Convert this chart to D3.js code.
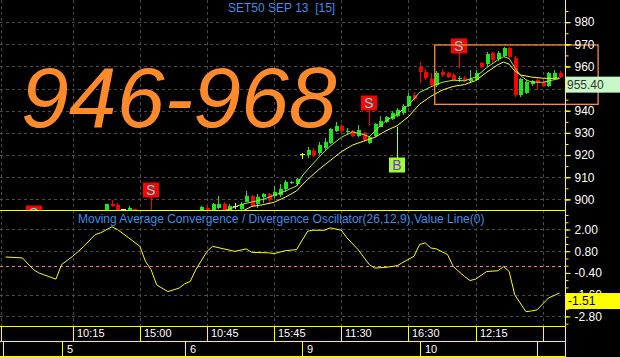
<!DOCTYPE html>
<html>
<head>
<meta charset="utf-8">
<script src="https://cdnjs.cloudflare.com/ajax/libs/d3/7.8.5/d3.min.js"></script>
<style>
  html, body { margin: 0; padding: 0; background: #000; overflow: hidden; }
  svg { display: block; font-family: "Liberation Sans", Arial, sans-serif; }
</style>
</head>
<body>
<div id="chart"></div>
<script>
// SET50 SEP 13, 15 minute bars. Bar index 0..99, null = bar lies below the visible price range
const opens = [
  null, null, null, null, null, null, null, null, null, null,
  null, null, null, null, null, null, null, null, 894.5, 897.9,
  897.4, 895.4, 894.8, 895.6, null, null, null, null, null, null,
  null, null, null, null, null, 894.5, 896.3, 894.8, 896.2, 897.9,
  894.8, 897.0, 895.5, 899.0, 901.5, 897.9, 900.9, 902.4, 901.5, 901.8,
  904.6, 907.2, 906.9, 920.3, 920.0, 921.9, 920.9, 923.0, 925.5, 931.0,
  933.0, 930.3, 930.8, 928.8, 929.8, 925.4, 928.6, 932.8, 934.8, 936.5,
  937.5, 939.0, 942.1, 947.1, 959.9, 957.6, 954.2, 951.6, 957.6, 956.9,
  956.1, 954.2, 954.6, 953.6, 953.9, 961.4, 961.0, 965.9, 963.2, 964.7,
  968.2, 964.0, 947.1, 947.8, 951.9, 953.9, 953.1, 951.4, 955.0, 957.0
];
const highs = [
  null, null, null, null, null, null, null, null, null, null,
  null, null, null, null, null, null, null, null, 897.9, 899.5,
  898.5, 895.8, 896.8, 895.7, null, null, null, null, null, null,
  null, null, null, null, null, 896.9, 898.0, 898.3, 901.4, 898.6,
  898.1, 898.4, 898.9, 903.7, 902.0, 902.5, 903.1, 903.0, 906.0, 907.1,
  908.8, 908.5, 909.6, 921.0, 923.5, 923.0, 926.0, 927.5, 932.3, 935.0,
  934.0, 932.0, 931.5, 933.5, 930.5, 928.7, 934.3, 937.5, 937.6, 940.0,
  941.3, 943.0, 947.8, 948.6, 962.1, 958.7, 956.9, 958.0, 958.8, 957.6,
  957.0, 955.6, 955.9, 958.2, 958.4, 962.0, 966.5, 966.5, 967.2, 968.6,
  968.7, 964.7, 954.6, 954.0, 953.9, 954.6, 954.3, 957.3, 958.4, 957.8
];
const lows = [
  null, null, null, null, null, null, null, null, null, null,
  null, null, null, null, null, null, null, null, 893.5, 896.5,
  893.8, 894.4, 894.5, 894.0, null, null, null, null, null, null,
  null, null, null, null, null, 893.8, 894.0, 894.2, 895.5, 894.5,
  894.3, 895.5, 895.0, 898.8, 896.5, 896.3, 898.5, 897.8, 900.5, 901.0,
  903.5, 906.8, 906.2, 918.2, 918.8, 919.3, 920.0, 922.5, 925.0, 930.5,
  930.0, 929.5, 928.0, 928.3, 925.9, 924.8, 928.3, 932.5, 934.4, 936.0,
  937.0, 938.0, 941.5, 944.5, 952.6, 953.8, 950.9, 950.9, 955.3, 954.6,
  953.5, 952.8, 952.8, 953.0, 953.3, 959.3, 960.0, 961.5, 962.5, 964.4,
  964.0, 946.1, 946.4, 947.5, 951.4, 949.3, 950.6, 950.6, 954.4, 954.8
];
const closes = [
  null, null, null, null, null, null, null, null, null, null,
  null, null, null, null, null, null, null, null, 897.7, 897.1,
  894.8, 895.4, 896.2, 894.9, null, null, null, null, null, null,
  null, null, null, null, null, 896.4, 894.5, 897.7, 897.7, 895.0,
  896.8, 897.0, 897.9, 901.5, 897.0, 901.2, 902.4, 899.7, 903.4, 904.6,
  907.9, 907.9, 909.2, 920.3, 922.3, 920.0, 924.5, 926.0, 931.8, 933.1,
  930.8, 931.0, 928.6, 931.3, 926.8, 928.2, 933.8, 935.5, 937.0, 938.8,
  940.2, 942.0, 946.6, 945.1, 957.6, 954.6, 951.6, 957.2, 956.1, 955.3,
  954.1, 954.9, 953.5, 954.5, 956.9, 959.9, 965.7, 963.0, 965.9, 968.2,
  964.4, 946.9, 954.2, 953.1, 953.4, 952.6, 951.1, 956.9, 957.0, 955.4
];

// moving averages, read at these bars
const fastMaBars = [38, 40, 42, 44, 46, 48, 50, 52, 53, 54, 56, 58, 60, 62, 64, 65, 66, 68, 70, 72,
                    74, 76, 78, 80, 82, 84, 86, 88, 89, 90, 91, 92, 93, 94, 96, 98, 99];
const fastMa = [894.0, 895.6, 897.6, 898.8, 900.0, 901.8, 903.8, 906.0, 910.5, 913.5, 919.0, 924.0, 928.0, 930.5, 929.2, 928.3, 930.8, 935.5, 938.5, 942.5,
                948.3, 950.8, 952.8, 953.8, 953.5, 955.2, 959.5, 963.0, 964.4, 963.6, 959.5, 956.0, 954.0, 953.0, 952.8, 954.0, 954.5];
const slowMaBars = [40, 42, 44, 46, 48, 50, 52, 53, 54, 56, 58, 60, 62, 64, 66, 68, 70, 72,
                    74, 76, 78, 80, 82, 84, 86, 88, 89, 90, 91, 92, 94, 96, 98, 99];
const slowMa = [893.5, 894.3, 896.8, 897.6, 898.7, 901.0, 903.8, 906.5, 909.0, 913.5, 917.5, 921.5, 924.5, 926.3, 928.0, 931.0, 933.3, 937.3,
                943.0, 946.5, 949.3, 951.0, 951.8, 953.6, 957.4, 960.8, 962.0, 961.0, 958.0, 956.2, 955.2, 954.7, 954.6, 954.8];

// buy / sell signals
const signalBars = [5, 26, 65, 70, 81];
const signalTypes = ["S", "S", "S", "B", "S"];
const signalBoxPrice = [894.0, 904.2, 943.5, 915.6, 969.4];
const signalLinePrice = [890.0, 890.0, 933.2, 932.8, 959.1];

// MACD(26,12,9), read at these bars
const macdBars = [0, 3, 5, 6, 9, 10, 12, 14, 16, 17, 19, 20, 22, 24, 25, 26, 27, 29, 31, 32,
                  33, 34, 36, 37, 39, 41, 43, 44, 47, 48, 50, 52, 54, 55, 57, 58, 60, 61, 63, 65,
                  66, 68, 70, 71, 73, 74, 75, 76, 77, 79, 80, 82, 83, 84, 86, 88, 89, 90, 91, 93,
                  94, 95, 97, 99];
const macdVals = [0.48, 0.43, -0.22, -0.41, -0.74, 0.06, 0.52, 1.07, 1.72, 1.82, 2.15, 2.00, 1.54, 1.07, 0.24, -0.22, -1.06, -1.43, -1.24, -1.00,
                  -0.87, -0.22, 0.79, 1.07, 0.93, 0.79, 0.93, 0.74, 0.71, 0.67, 0.83, 0.89, 1.91, 1.96, 1.96, 2.09, 1.96, 1.54, 0.89, 0.06,
                  -0.13, -0.09, 0.00, 0.18, 0.52, 1.17, 1.26, 0.98, 0.93, 0.61, -0.04, -0.59, -0.82, -0.74, -0.32, -0.28, -0.04, -0.32, -1.61, -2.54,
                  -2.50, -2.44, -1.79, -1.51];

// axes
const priceTicks = [900, 910, 920, 930, 940, 950, 960, 970, 980];
const macdTicks = [2.0, 0.8, -0.4, -1.6, -2.8];
const macdGrid = [2.0, 0.8, -1.6, -2.8];
const timeBars = [12, 24, 36, 48, 60, 72, 84, 96];
const timeLabels = ["10:15", "15:00", "10:45", "15:45", "11:30", "16:30", "12:15", ""];
const dayBars = [10, 32, 53, 74, 95];
const dayLabels = ["5", "6", "9", "10", ""];

// target zone annotation
const zoneText = "946-968";
const zoneBars = [76.7, 105.9];
const zonePrices = [942.9, 969.7];

const W = 620, H = 357;
const axisX = 565;
const priceTop = 0, priceBottom = 210, macdBottom = 326, rowMid = 341, rowBottom = 356;

const svg = d3.select("#chart").append("svg")
    .attr("width", W)
    .attr("height", H)
    .style("background", "#000");

const x = d3.scaleLinear().domain([0, 99]).range([5.6, 559.5]);
const y = d3.scaleLinear().domain([895.2, 990]).range([priceBottom, priceTop]);
const ym = d3.scaleLinear().domain([-3.331, 3.077]).range([macdBottom, priceBottom]);

const defs = svg.append("defs");
defs.append("clipPath").attr("id", "clipPrice")
    .append("rect").attr("x", 0).attr("y", priceTop).attr("width", axisX).attr("height", priceBottom - priceTop);
defs.append("clipPath").attr("id", "clipMacd")
    .append("rect").attr("x", 0).attr("y", priceBottom).attr("width", axisX).attr("height", macdBottom - priceBottom);

const gridColor = "#4a4a4a";
const grid = svg.append("g").attr("stroke", gridColor).attr("stroke-dasharray", "3,3").attr("shape-rendering", "crispEdges");

// horizontal grid
grid.selectAll(".hp").data(priceTicks).join("line")
    .attr("x1", 0).attr("x2", axisX)
    .attr("y1", d => Math.round(y(d)) + 0.5).attr("y2", d => Math.round(y(d)) + 0.5);
grid.selectAll(".hm").data(macdGrid).join("line")
    .attr("x1", 0).attr("x2", axisX)
    .attr("y1", d => Math.round(ym(d)) + 0.5).attr("y2", d => Math.round(ym(d)) + 0.5);
// vertical grid
grid.selectAll(".v").data([0].concat(timeBars)).join("line")
    .attr("x1", (d, i) => i === 0 ? 1.5 : Math.round(x(d)) + 0.5)
    .attr("x2", (d, i) => i === 0 ? 1.5 : Math.round(x(d)) + 0.5)
    .attr("y1", priceTop).attr("y2", macdBottom);

// zero line of the oscillator
svg.append("line")
    .attr("x1", 0).attr("x2", axisX)
    .attr("y1", Math.round(ym(0)) + 0.5).attr("y2", Math.round(ym(0)) + 0.5)
    .attr("stroke", "#ff7373").attr("stroke-dasharray", "3,3");

// big target text
svg.append("text")
    .attr("x", 21).attr("y", 126.5)
    .attr("font-size", 86)
    .attr("font-style", "italic")
    .attr("fill", "#ff8a2b")
    .text(zoneText);

// title
svg.append("text")
    .attr("x", 228).attr("y", 12)
    .attr("font-size", 12)
    .attr("fill", "#3d8ee8")
    .style("white-space", "pre")
    .text("SET50 SEP 13  [15]");

// price panel
const pricePanel = svg.append("g").attr("clip-path", "url(#clipPrice)");

const bars = d3.range(100).filter(i => opens[i] !== null).map(i => ({
  i, o: opens[i], h: highs[i], l: lows[i], c: closes[i]
}));
const candleColor = d => d.c > d.o ? "#1ee61e" : d.c < d.o ? "#ff0000" : "#ffff00";

const candle = pricePanel.append("g").attr("shape-rendering", "crispEdges")
    .selectAll("g").data(bars).join("g");
candle.append("line")
    .attr("x1", d => Math.round(x(d.i)) + 0.5).attr("x2", d => Math.round(x(d.i)) + 0.5)
    .attr("y1", d => y(d.h)).attr("y2", d => y(d.l))
    .attr("stroke", candleColor);
candle.append("rect")
    .attr("x", d => Math.round(x(d.i)) - (d.c === d.o ? 2 : 1.5))
    .attr("width", d => d.c === d.o ? 5 : 4)
    .attr("y", d => d.c === d.o ? y(d.c) - 0.5 : y(Math.max(d.o, d.c)))
    .attr("height", d => Math.max(1, Math.abs(y(d.o) - y(d.c))))
    .attr("fill", candleColor);

const maLine = (bars, vals) => d3.line()
    .x((d, k) => x(bars[k]))
    .y(d => y(d))(vals);

pricePanel.append("path")
    .attr("d", maLine(slowMaBars, slowMa))
    .attr("fill", "none").attr("stroke", "#ffff33").attr("stroke-width", 1);
pricePanel.append("path")
    .attr("d", maLine(fastMaBars, fastMa))
    .attr("fill", "none").attr("stroke", "#a3f03a").attr("stroke-width", 1);

// signals
const signals = signalBars.map((b, k) => ({
  b, t: signalTypes[k], box: signalBoxPrice[k], end: signalLinePrice[k]
}));
const sig = pricePanel.append("g").selectAll("g").data(signals).join("g");
sig.append("line")
    .attr("x1", d => Math.round(x(d.b)) + 0.5).attr("x2", d => Math.round(x(d.b)) + 0.5)
    .attr("y1", d => y(d.box)).attr("y2", d => y(d.end))
    .attr("stroke", d => d.t === "S" ? "#ff0000" : "#99ff33");
sig.append("rect")
    .attr("x", d => Math.round(x(d.b)) - 8)
    .attr("y", d => Math.round(y(d.box)) - 7.5)
    .attr("width", 16).attr("height", 15)
    .attr("fill", d => d.t === "S" ? "#ff0000" : "#99ff33");
sig.append("text")
    .attr("x", d => Math.round(x(d.b)))
    .attr("y", d => Math.round(y(d.box)) + 5)
    .attr("text-anchor", "middle")
    .attr("font-size", 14)
    .attr("fill", d => d.t === "S" ? "#3ce6f0" : "#8a2be2")
    .text(d => d.t);

// target zone box
svg.append("rect")
    .attr("x", x(zoneBars[0])).attr("y", y(zonePrices[1]))
    .attr("width", x(zoneBars[1]) - x(zoneBars[0]))
    .attr("height", y(zonePrices[0]) - y(zonePrices[1]))
    .attr("fill", "none").attr("stroke", "#ff8c3c").attr("stroke-width", 1.3);

// oscillator panel
const macdPanel = svg.append("g").attr("clip-path", "url(#clipMacd)");
macdPanel.append("path")
    .attr("d", d3.line().x((d, k) => x(macdBars[k])).y(d => ym(d))(macdVals))
    .attr("fill", "none").attr("stroke", "#ffff00").attr("stroke-width", 1);

svg.append("text")
    .attr("x", 78).attr("y", 222.5)
    .attr("font-size", 12)
    .attr("fill", "#3d8ee8")
    .text("Moving Average Convergence / Divergence Oscillator(26,12,9),Value Line(0)");

// frame lines
const frame = svg.append("g").attr("stroke", "#ffff00").attr("shape-rendering", "crispEdges");
[priceBottom, macdBottom, rowMid, rowBottom].forEach(v => {
  frame.append("line").attr("x1", 0).attr("x2", axisX).attr("y1", v + 0.5).attr("y2", v + 0.5);
});
frame.append("line").attr("x1", axisX + 0.5).attr("x2", axisX + 0.5).attr("y1", 0).attr("y2", H);
frame.append("line").attr("x1", 1.5).attr("x2", 1.5).attr("y1", macdBottom).attr("y2", rowMid);
frame.append("line").attr("x1", 3.5).attr("x2", 3.5).attr("y1", rowMid).attr("y2", rowBottom);
frame.selectAll(".tb").data(timeBars).join("line")
    .attr("x1", d => Math.round(x(d)) + 0.5).attr("x2", d => Math.round(x(d)) + 0.5)
    .attr("y1", macdBottom).attr("y2", rowMid);
frame.selectAll(".db").data(dayBars).join("line")
    .attr("x1", d => Math.round(x(d)) + 0.5).attr("x2", d => Math.round(x(d)) + 0.5)
    .attr("y1", rowMid).attr("y2", rowBottom);

// time labels
svg.append("g").selectAll("text").data(timeBars).join("text")
    .attr("x", d => Math.round(x(d)) + 4).attr("y", 337)
    .attr("font-size", 11).attr("fill", "#fff")
    .text((d, k) => timeLabels[k]);
svg.append("g").selectAll("text").data(dayBars).join("text")
    .attr("x", d => Math.round(x(d)) + 5).attr("y", 352.5)
    .attr("font-size", 11).attr("fill", "#fff")
    .text((d, k) => dayLabels[k]);

// right axes
const lastClose = closes[99];
const lastMacd = macdVals[macdVals.length - 1];

function styleAxis(g) {
  g.select(".domain").remove();
  g.selectAll(".tick line").attr("stroke", "#ffff00");
  g.selectAll(".tick text").attr("fill", "#fff").attr("font-size", 12)
    .attr("font-family", "'Liberation Sans', Arial, sans-serif");
}
// the price label sitting under the last-close box is not drawn
const shownPriceTicks = priceTicks.filter(p => Math.abs(y(p) - (y(lastClose) + 8)) > 10);
svg.append("g").attr("transform", `translate(${axisX + 0.5},0)`)
    .call(d3.axisRight(y).tickValues(d3.range(900, 990, 5)).tickSize(3).tickFormat(""))
    .call(styleAxis);
svg.append("g").attr("transform", `translate(${axisX + 0.5},0)`)
    .call(d3.axisRight(y).tickValues(priceTicks).tickSize(5).tickFormat(""))
    .call(styleAxis);
svg.append("g").attr("transform", `translate(${axisX + 0.5},0)`)
    .call(d3.axisRight(y).tickValues(shownPriceTicks).tickSize(5).tickPadding(4).tickFormat(d => d.toFixed(0)))
    .call(styleAxis);
svg.append("g").attr("transform", `translate(${axisX + 0.5},0)`)
    .call(d3.axisRight(ym).tickValues(d3.range(-3.2, 3.0, 0.4)).tickSize(3).tickFormat(""))
    .call(styleAxis);
svg.append("g").attr("transform", `translate(${axisX + 0.5},0)`)
    .call(d3.axisRight(ym).tickValues(macdTicks).tickSize(5).tickPadding(4).tickFormat(d => d.toFixed(2)))
    .call(styleAxis);

// last value boxes
svg.append("rect")
    .attr("x", axisX + 1).attr("y", y(lastClose))
    .attr("width", W - axisX - 1).attr("height", 16)
    .attr("fill", "#c8f7c8");
svg.append("text")
    .attr("x", axisX + 2).attr("y", y(lastClose) + 12.5)
    .attr("font-size", 12).attr("fill", "#333")
    .text(lastClose.toFixed(2));
svg.append("rect")
    .attr("x", axisX + 1).attr("y", ym(lastMacd))
    .attr("width", W - axisX - 1).attr("height", 16)
    .attr("fill", "#ffff00");
svg.append("text")
    .attr("x", axisX + 3).attr("y", ym(lastMacd) + 12)
    .attr("font-size", 12).attr("fill", "#000")
    .text(lastMacd.toFixed(2));
</script>
</body>
</html>
